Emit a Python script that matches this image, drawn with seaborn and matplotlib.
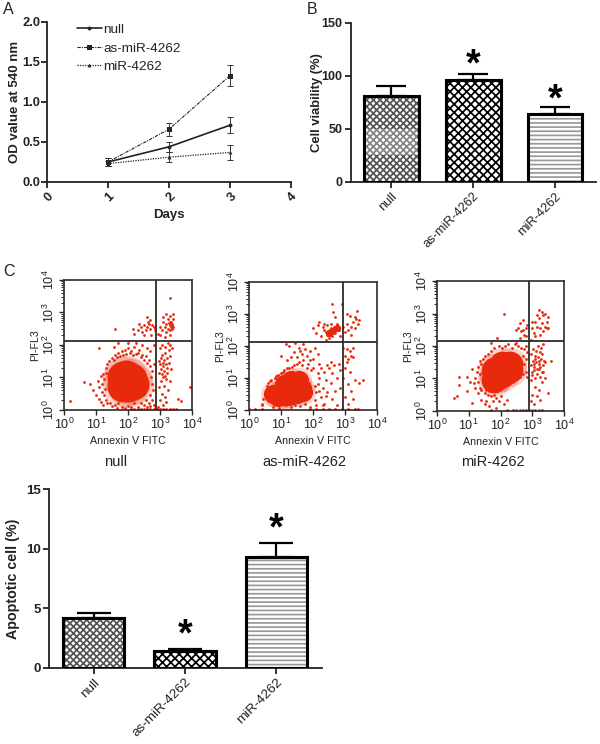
import numpy as np
import pandas as pd
import matplotlib
matplotlib.use("Agg")
import matplotlib.pyplot as plt
from matplotlib.lines import Line2D
import seaborn as sns

sns.set_theme(style="ticks")
plt.rcParams["font.family"] = ["Liberation Sans", "DejaVu Sans"]
plt.rcParams["hatch.linewidth"] = 1.25

# ---- data -------------------------------------------------------------
groups = ["null", "as-miR-4262", "miR-4262"]
days = [1, 2, 3]
od_null = [0.25, 0.44, 0.71]
od_null_err = [0.05, 0.06, 0.10]
od_as = [0.25, 0.66, 1.33]
od_as_err = [0.05, 0.08, 0.13]
od_mi = [0.23, 0.31, 0.37]
od_mi_err = [0.03, 0.06, 0.09]

viability = [81, 96, 64]
viability_err = [9, 6, 7]
viability_star = [117, 84]
null_light_band = (25, 50)

apoptotic = [4.2, 1.4, 9.3]
apoptotic_err = [0.4, 0.2, 1.2]
apoptotic_star = [3.35, 12.2]

# flow cytometry in decades (log10 of the signal)
null_core = [(1.85, .75), (2.1, .95), (1.95, 1.05), (2.15, .8), (1.85, 1.0), (2.0, .75)]
null_gates = (2.88, 2.13)
null_dots = [
 (.2,.27),(.62,.85),(.8,.8),(.9,.6),(1.0,.45),(1.05,.9),(1.1,.7),(1.1,.35),(1.15,1.05),(1.18,.55),(1.2,.8),
 (1.22,1.1),(1.25,.45),(1.25,.95),(1.15,.25),(1.3,.3),(1.3,1.3),(1.28,.65),(1.22,.15),(1.3,1.15),(1.35,.22),
 (1.4,1.5),(1.35,1.4),(1.45,.2),(1.5,1.6),(1.55,1.55),(1.6,1.7),(1.65,1.62),(1.7,1.75),(1.75,1.67),(1.8,1.8),
 (1.85,1.7),(1.9,1.85),(1.95,1.72),(2.0,1.9),(2.05,1.75),(2.1,1.8),(2.15,1.7),(2.2,1.95),(2.25,1.72),(2.3,1.75),
 (2.35,1.85),(2.4,1.62),(2.45,1.7),(2.5,1.55),(2.55,1.65),(2.6,1.45),(2.65,1.55),(2.7,1.35),(2.75,1.2),(2.72,1.0),
 (2.75,.8),(2.78,.6),(2.7,.45),(2.75,.3),(2.8,1.4),(2.8,.15),(1.5,.12),(1.6,.15),(1.65,.05),(1.7,.22),(1.8,.1),
 (1.9,.05),(2.0,.12),(2.1,.08),(2.2,.2),(2.3,.1),(2.4,.22),(2.5,.15),(2.55,.3),(2.6,.08),(2.65,.22),(2.7,.12),
 (1.1,1.9),(1.55,1.95),(1.7,2.05),(2.0,2.05),(2.25,2.05),(2.45,2.0),(2.6,1.9),(2.7,1.8),(2.8,2.0),
 (2.95,.1),(3.0,.3),(3.05,.5),(3.1,.15),(3.15,.4),(3.2,.25),(3.25,.6),(2.98,.7),(3.02,.9),(3.08,1.0),(3.12,.75),
 (3.18,.95),(3.22,1.15),(3.3,.9),(2.97,1.15),(3.03,1.25),(3.08,1.35),(3.13,1.2),(3.18,1.4),(3.23,1.3),(3.28,1.45),
 (3.35,1.25),(2.96,1.5),(3.02,1.6),(3.07,1.7),(3.12,1.55),(3.17,1.75),(3.22,1.6),(3.27,1.85),(3.32,1.65),(3.37,1.9),
 (3.0,1.9),(3.05,2.0),(3.15,1.95),(3.25,2.05),(3.3,2.0),(3.1,1.45),(3.0,1.4),(3.15,1.05),(3.05,1.1),(3.95,.7),(3.55,.35),
 (3.65,.28),(2.2,2.35),(2.3,2.45),(2.4,2.55),(2.45,2.4),(2.5,2.6),(2.55,2.45),(2.6,2.55),(2.65,2.65),(2.7,2.5),
 (2.75,2.6),(2.6,2.85),(2.62,2.7),(2.7,2.78),(2.8,2.55),(2.85,2.45),(2.35,2.65),(2.15,2.5),(1.6,2.5),(2.5,2.3),(2.72,2.3),
 (2.95,2.35),(3.0,2.55),(3.05,2.45),(3.1,2.7),(3.15,2.55),(3.2,2.4),(3.2,2.65),(3.25,2.5),(3.25,2.8),(3.3,2.6),
 (3.3,2.9),(3.35,2.55),(3.35,2.7),(3.38,2.65),(3.4,2.8),(3.3,2.45),(3.4,2.55),(3.42,2.95),(3.1,2.85),(3.2,2.95),(3.3,3.45),
 (3.38,2.5),(3.32,2.72),(3.36,2.62),(3.28,2.68),(3.0,2.3),(3.15,2.25),(3.3,2.3),
 (2.1,.03),(2.2,.03),(2.3,.03),(2.4,.03),(2.5,.03),(2.6,.03),(2.7,.03),(2.8,.03),(2.9,.03),(3.0,.03),(3.1,.03),(3.2,.03),(3.3,.03),(3.4,.03),(3.5,.03)]

as_core = [(.75, .5), (.9, .4), (1.0, .6), (1.1, .8), (1.25, .7), (1.25, .45), (1.5, .75), (1.5, .5),
           (1.65, .7), (1.3, .95), (1.55, .95), (1.7, .55), (1.1, .45)]
as_knot = [(2.5, 2.42), (2.6, 2.48), (2.75, 2.55)]
as_gates = (2.94, 2.12)
as_dots = [
 (.4,.2),(.45,.35),(.5,.55),(.4,.15),(.55,.75),(.6,.85),(.65,.9),(.7,.95),(.75,.1),(.8,1.0),(.85,1.05),(.9,1.1),
 (.95,.05),(1.0,1.15),(1.05,1.2),(1.1,1.25),(1.15,.15),(1.2,1.3),(1.25,1.32),(1.3,.1),(1.35,1.35),(1.4,1.4),(1.45,.15),
 (1.5,1.45),(1.55,1.5),(1.6,.12),(1.65,1.4),(1.7,1.55),(1.75,.2),(1.8,1.3),(1.85,1.45),(1.9,.1),(1.95,1.25),(2.0,1.3),
 (1.2,1.55),(1.3,1.65),(1.15,2.05),(1.25,2.0),(1.0,1.7),(1.4,1.8),(1.5,1.65),(1.55,1.95),(1.65,1.75),(1.7,2.05),(1.8,1.7),
 (1.9,1.85),(2.0,1.6),(2.05,1.95),(2.15,1.75),(2.2,1.45),(1.6,1.85),(1.45,2.1),(1.75,1.9),(1.9,1.55),
 (2.05,.3),(2.1,.55),(2.15,.8),(2.2,1.0),(2.25,.4),(2.3,.7),(2.35,1.2),(2.4,.95),(2.45,.55),(2.5,1.3),(2.55,.85),
 (2.6,1.15),(2.65,1.4),(2.7,.6),(2.75,1.0),(2.8,1.45),(2.85,1.25),(2.15,1.15),(2.25,1.3),(2.35,.2),(2.45,1.4),(2.55,1.5),
 (2.1,.15),(2.3,.15),(2.05,.75),(2.2,.6),(2.4,.45),(2.6,.35),(2.75,.15),(2.85,.7),(2.95,1.0),(3.0,1.3),(3.05,1.5),(3.1,.8),
 (3.15,1.2),(3.2,.6),(3.25,1.65),(3.3,.95),(3.45,.85),(3.55,.95),(3.0,.4),(3.1,.2),(3.25,.35),(3.0,1.7),(3.15,1.85),(3.25,1.95),
 (2.95,1.95),(3.05,1.9),(3.2,1.7),(3.1,1.6),
 (2.0,2.55),(2.1,2.4),(2.15,2.65),(2.2,2.75),(2.25,2.3),(2.3,2.6),(2.35,2.7),(2.4,2.2),(2.45,2.65),(2.5,2.25),(2.55,2.7),(2.6,2.3),
 (2.65,2.6),(2.7,2.4),(2.75,2.7),(2.8,2.5),(2.85,2.3),(2.6,3.3),(2.62,3.05),(2.7,2.9),(2.9,3.3),(2.95,2.6),(3.0,2.45),(3.05,2.7),
 (3.1,2.5),(3.15,2.95),(3.2,2.35),(3.25,2.75),(3.3,2.55),(3.35,2.85),(3.4,2.7),(3.45,2.8),(3.38,3.1),(3.05,3.0),(3.2,2.6),(3.3,2.9),
 (2.35,2.5),(2.4,2.45),(2.45,2.35),(2.55,2.55),(2.65,2.45),
 (.0,.02),(.2,.03),(.4,.03),(1.9,.03),(2.1,.03),(2.3,.03),(2.5,.03),(2.7,.03),(2.9,.03),(3.1,.03),(3.3,.03),(3.4,.03)]

mi_core = [(1.85, 1.05), (2.1, 1.3), (2.3, 1.45), (1.8, 1.25), (2.05, 1.1), (2.3, 1.25), (2.05, 1.45), (1.8, .95)]
mi_gates = (2.9, 2.15)
mi_dots = [
 (.55,.4),(.62,.45),(.7,.8),(.95,.6),(.95,1.05),(.7,1.05),(1.05,.9),(1.1,1.3),(1.15,.85),(1.2,1.0),(1.2,.7),(1.25,1.2),
 (1.1,.25),(1.3,.55),(1.3,.9),(1.3,1.35),(1.35,.7),(1.35,1.15),(1.35,1.55),(1.4,.65),(1.4,1.45),(1.4,.35),(1.45,1.6),(1.5,.55),
 (1.5,.2),(1.5,1.7),(1.55,.65),(1.55,.3),(1.6,.5),(1.6,1.75),(1.65,.6),(1.65,.15),(1.7,.45),(1.7,1.85),(1.75,.6),(1.75,.3),
 (1.8,.5),(1.8,1.95),(1.85,.1),(1.85,.4),(1.9,.6),(1.95,2.0),(1.95,.3),(2.0,.7),(2.0,.45),(2.05,1.95),(2.1,.75),(2.1,.2),(2.15,2.0),
 (2.2,.8),(2.2,.35),(2.25,2.05),(2.3,.85),(2.35,1.95),(2.4,.9),(2.45,2.05),(2.5,1.0),(2.55,2.0),(2.6,1.05),(2.65,1.95),(2.7,1.15),
 (2.75,1.9),(2.75,1.45),(2.8,1.6),(2.8,1.2),(2.85,1.8),(2.72,1.7),(2.8,2.0),(2.85,1.05),(2.1,3.0),(1.7,2.1),(1.9,2.25),(2.5,2.1),
 (2.95,.3),(3.0,.5),(3.05,.2),(3.1,.75),(3.15,.45),(3.2,.65),(3.25,.35),(3.3,.9),(2.95,.95),(3.0,1.1),(3.05,1.25),(3.1,1.0),
 (3.15,1.15),(3.2,1.3),(3.25,1.05),(3.3,1.2),(3.35,1.4),(3.4,1.0),(2.97,1.4),(3.02,1.55),(3.07,1.35),(3.12,1.5),(3.17,1.65),
 (3.22,1.45),(3.27,1.6),(3.32,1.75),(3.37,1.55),(2.96,1.75),(3.02,1.9),(3.08,1.7),(3.13,1.85),(3.18,2.0),(3.23,1.8),(3.28,1.95),
 (3.33,2.05),(3.05,1.45),(3.15,1.3),(3.25,1.35),(3.1,1.6),(3.2,1.55),(3.0,1.2),(3.35,1.2),(3.4,1.5),(3.6,1.55),(3.5,.55),
 (2.5,2.5),(2.55,2.55),(2.6,2.7),(2.65,2.45),(2.7,2.8),(2.75,2.35),(2.8,2.55),(2.85,2.65),(2.6,2.25),(2.7,2.5),(2.8,2.3),
 (2.95,2.2),(3.0,2.55),(3.05,2.4),(3.1,2.75),(3.15,2.6),(3.2,2.85),(3.25,2.55),(3.3,2.7),(3.35,2.95),(3.4,2.6),(3.45,2.75),
 (3.4,3.0),(3.3,3.05),(3.2,3.1),(3.5,2.9),(3.45,2.55),(3.35,2.45),(3.25,2.35),(3.1,2.3),(3.0,2.75),(3.5,2.55),(3.15,2.95),
 (2.2,.03),(2.4,.03),(2.5,.03),(2.6,.03),(2.7,.03),(2.8,.03),(2.9,.03),(3.0,.03),(3.1,.03),(3.2,.03),(3.3,.03),(1.7,.03)]

# ---- helpers ------------------------------------------------------------
W, H = 600, 744
fig = plt.figure(figsize=(W / 100, H / 100), dpi=100, facecolor="white")


def axes_px(x0, x1, ytop, ybot):
    return fig.add_axes([x0 / W, 1 - ybot / H, (x1 - x0) / W, (ybot - ytop) / H])


def fig_text(x, y, s, **kw):
    fig.text(x / W, 1 - y / H, s, **kw)


INK = "#222222"
BOLD = dict(fontweight="bold", color=INK)


def style_axis(ax):
    sns.despine(ax=ax)
    for s in ("left", "bottom"):
        ax.spines[s].set_linewidth(1.3)
        ax.spines[s].set_color(INK)
    ax.tick_params(width=1.3, length=4, color=INK, pad=2)


def bars(ax, values, errs, stars, star_x, ylim, yticks, ylabel, capsize, star_fs,
         label_fs, label_x, xtick_fs, ytick_fs):
    frame = pd.DataFrame({"group": groups, "value": values})
    sns.barplot(data=frame, x="group", y="value", ax=ax, width=0.67, color="white",
                errorbar=None, edgecolor="black", linewidth=2.2, zorder=3)
    for patch, hatch, col in zip(ax.patches, ["xxxxx", "xxxx", "----"], ["#555555", "black", "#999999"]):
        patch.set_hatch(hatch)
        patch.set_edgecolor(col)
    # black outlines on top of the hatches
    sns.barplot(data=frame, x="group", y="value", ax=ax, width=0.67, fill=False,
                errorbar=None, edgecolor="black", linewidth=2.2, zorder=4)
    ax.errorbar(range(3), values, yerr=[[0] * 3, errs], fmt="none", ecolor="black",
                elinewidth=1.6, capsize=capsize, capthick=1.6, zorder=2)
    for x, y in zip(star_x, stars):
        ax.annotate("*", (x, y), xytext=(0, -star_fs * 0.2), textcoords="offset points",
                    ha="center", va="center", fontsize=star_fs, fontweight="bold", color="black")
    ax.set_xlim(-0.49, 2.5)
    ax.set_ylim(*ylim)
    ax.set_yticks(yticks)
    ax.set_xlabel("")
    ax.set_ylabel(ylabel, fontsize=label_fs, **BOLD)
    ax.yaxis.set_label_coords(label_x, 0.5)
    style_axis(ax)
    ax.tick_params(axis="y", labelsize=ytick_fs, labelcolor=INK)
    for lab in ax.get_yticklabels():
        lab.set_fontweight("bold")
    ax.set_xticks(range(3))
    ax.set_xticklabels(groups, rotation=45, ha="right", rotation_mode="anchor",
                       fontsize=xtick_fs, color=INK)


def flow(rect, core, core_s, dots, gates, knot=None):
    ax = axes_px(*rect)
    red = "#e8290b"
    cx, cy = np.array(core).T
    # soft fringe of unresolved events round the saturated core
    sns.scatterplot(x=10 ** cx, y=10 ** cy, s=core_s * 1.7, color=red, alpha=.2, linewidth=0, ax=ax, zorder=2)
    sns.scatterplot(x=10 ** cx, y=10 ** cy, s=core_s, color=red, linewidth=0, ax=ax, zorder=2)
    if knot:
        kx, ky = np.array(knot).T
        sns.scatterplot(x=10 ** kx, y=10 ** ky, s=28, color=red, linewidth=0, ax=ax, zorder=2)
    dx, dy = np.array(dots).T
    sns.scatterplot(x=10 ** dx, y=10 ** dy, s=4, color=red, linewidth=0, ax=ax, zorder=2)
    ax.set_xscale("log")
    ax.set_yscale("log")
    ax.set_xlim(1, 1e4)
    ax.set_ylim(1, 1e4)
    ax.axvline(10 ** gates[0], color="#2b2b2b", lw=1.3, zorder=3)
    ax.axhline(10 ** gates[1], color="#2b2b2b", lw=1.3, zorder=3)
    for s in ax.spines.values():
        s.set_linewidth(1.2)
        s.set_color("#2b2b2b")
    ticks = [1, 10, 100, 1000, 10000]
    labels = [rf"$\mathregular{{10^{{{i}}}}}$" for i in range(5)]
    ax.set_xticks(ticks, labels)
    ax.set_yticks(ticks, labels, rotation=90, va="center")
    ax.tick_params(which="major", length=3.5, width=1, labelsize=9, pad=1.5, color="#2b2b2b", labelcolor=INK)
    ax.tick_params(which="minor", length=2, width=.7, color="#2b2b2b")
    ax.set_xlabel("Annexin V FITC", fontsize=7.7, color=INK, labelpad=3)
    ax.set_ylabel("PI-FL3", fontsize=7.7, color=INK, labelpad=1)
    return ax


# ---- panel A ------------------------------------------------------------
ax = axes_px(47, 291, 22, 182)
long_df = pd.DataFrame({
    "day": days * 3,
    "od": od_null + od_as + od_mi,
    "group": np.repeat(groups, 3),
})
styles = {"null": ("-", "o", 1.2, 1.8), "as-miR-4262": ((0, (3, 1, 1, 1)), "s", .8, 2.6),
          "miR-4262": ((0, (1, 1)), "^", .9, 1.8)}
for name, err in zip(groups, [od_null_err, od_as_err, od_mi_err]):
    ls, mk, lw, ms = styles[name]
    sub = long_df[long_df.group == name]
    sns.lineplot(data=sub, x="day", y="od", ax=ax, color="#222222", linestyle=ls, linewidth=lw,
                 marker=mk, markersize=ms + 1, markeredgewidth=0, errorbar=None, legend=False)
    ax.errorbar(days, sub.od, yerr=err, fmt="none", ecolor="#333333", elinewidth=.7, capsize=2, capthick=.7)
ax.set_xlim(0, 4)
ax.set_ylim(0, 2)
ax.set_yticks([0, .5, 1, 1.5, 2], ["0.0", "0.5", "1.0", "1.5", "2.0"])
ax.set_xticks(range(5))
ax.set_xticklabels(range(5), rotation=45, ha="right", rotation_mode="anchor")
style_axis(ax)
ax.tick_params(labelsize=9.3, labelcolor=INK)
ax.tick_params(axis="y", pad=1)
for lab in ax.get_xticklabels() + ax.get_yticklabels():
    lab.set_fontweight("bold")
ax.set_xlabel("Days", fontsize=9.5, **BOLD)
ax.xaxis.set_label_coords(0.5, -0.206)
ax.xaxis.label.set_va("center")
ax.set_ylabel("OD value at 540 nm", fontsize=9.5, **BOLD)
ax.yaxis.set_label_coords(-0.106, 0.5)
handles = [Line2D([], [], color="#222222", linestyle=styles[g][0], linewidth=styles[g][2],
                  marker=styles[g][1], markersize=styles[g][3] + 1, markeredgewidth=0) for g in groups]
ax.legend(handles, groups, loc="upper left", bbox_to_anchor=(0.072, 1.065), frameon=False, fontsize=9.7,
          handlelength=1.9, labelspacing=.45, handletextpad=.1, labelcolor=INK)

# ---- panel B ------------------------------------------------------------
ax = axes_px(351, 596, 22.7, 182)
bars(ax, viability, viability_err, viability_star, [1, 2], (0, 150), [0, 50, 100, 150],
     "Cell viability (%)", 10.5, 27, 9.4, -0.114, 9.2, 9)
ax.bar(groups[0], null_light_band[1] - null_light_band[0], bottom=null_light_band[0], width=0.63,
       color="white", alpha=.28, linewidth=0, zorder=3.5)

# ---- panel C flow plots -------------------------------------------------
flow((64, 192, 280, 410), null_core, 530, null_dots, null_gates)
flow((249, 377, 282, 410), as_core, 190, as_dots, as_gates, as_knot)
flow((437, 564, 281, 411), mi_core, 340, mi_dots, mi_gates)
caption = dict(ha="center", va="center", fontsize=10.5, color=INK)
fig_text(116, 462, groups[0], **caption)
fig_text(304, 462, groups[1], **caption)
fig_text(493, 462, groups[2], **caption)

# ---- panel D ------------------------------------------------------------
ax = axes_px(49, 322, 489, 668)
bars(ax, apoptotic, apoptotic_err, apoptotic_star, [1, 2], (0, 15), [0, 5, 10, 15],
     "Apoptotic cell (%)", 12, 27, 10.3, -0.106, 9.7, 9.5)

# ---- panel letters ------------------------------------------------------
letter = dict(ha="left", va="center", fontsize=11.5, color=INK)
fig_text(3, 9, "A", **letter)
fig_text(307, 9, "B", **letter)
fig_text(3, 271, "C", **letter)

fig.savefig("out.png", dpi=100)
